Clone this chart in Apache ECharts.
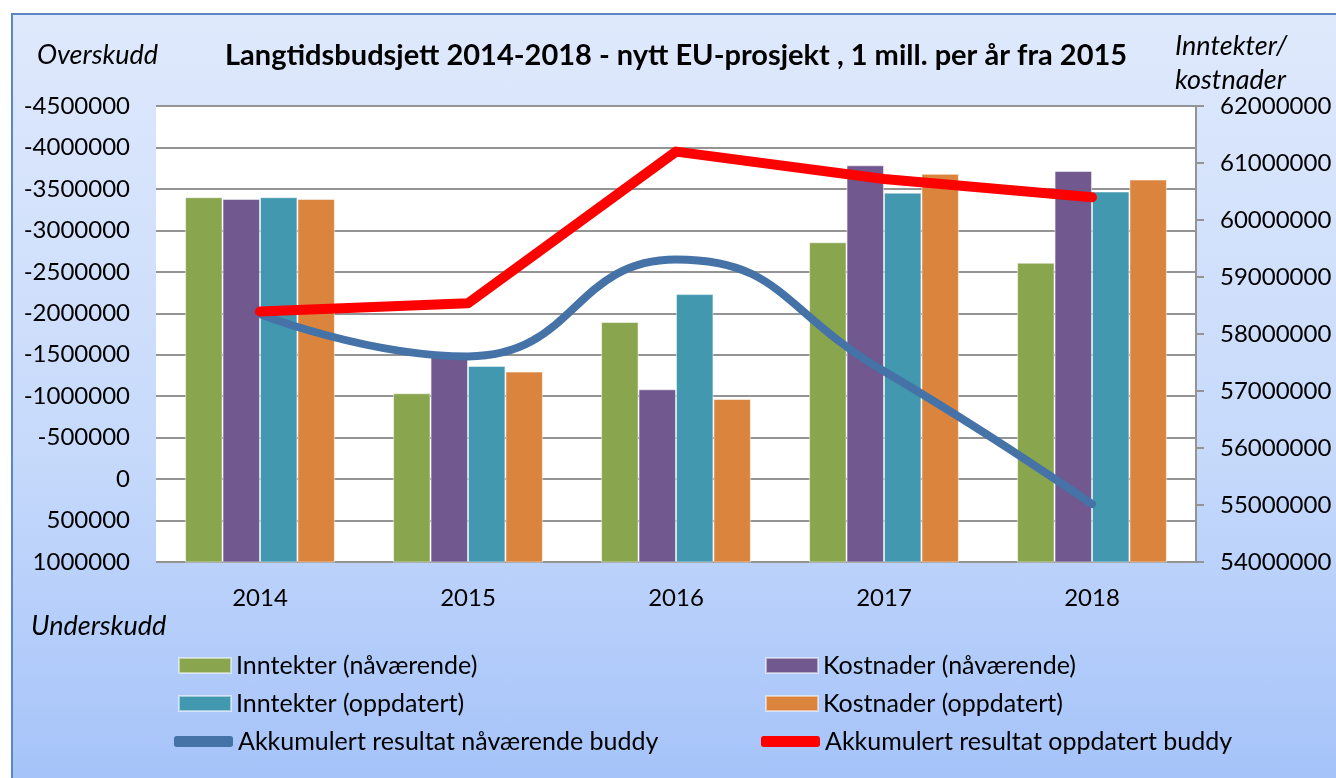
<!DOCTYPE html>
<html>
<head>
    <meta http-equiv="content-type" content="text/html; charset=utf-8">
    <script src="https://cdn.jsdelivr.net/npm/echarts@6/dist/echarts.min.js"></script>
    <style>
        html, body { margin: 0; padding: 0; background: #fff; overflow: hidden; }
        #frame {
            position: absolute; left: 11px; top: 13px; width: 1340px; height: 780px;
            border: 2px solid #5b87c5;
            background: linear-gradient(to bottom, #dfe9fc 0%, #c7dafb 55%, #a4c2f9 100%);
        }
        #main { position: absolute; left: 0; top: 0; width: 1336px; height: 778px; }
    </style>
</head>
<body>
<div id="frame"></div>
<div id="main"></div>
<script>
    // data
    var years = ['2014', '2015', '2016', '2017', '2018'];
    var inntekterNa = [60400000, 56960000, 58210000, 59610000, 59250000];
    var kostnaderNa = [60370000, 57600000, 57030000, 60960000, 60860000];
    var inntekterOpp = [60400000, 57440000, 58700000, 60480000, 60500000];
    var kostnaderOpp = [60370000, 57340000, 56860000, 60810000, 60710000];
    var resultatNa = [-1990000, -1480000, -2650000, -1300000, 300000];
    var resultatOpp = [-2020000, -2120000, -3950000, -3620000, -3400000];

    var font = 'Lato';
    var plain = function (v) { return String(v); };

    function legendRow(name, left, top, line) {
        return {
            data: [name],
            left: left,
            top: top,
            padding: 0,
            icon: line ? 'roundRect' : 'rect',
            itemWidth: line ? 59 : 52,
            itemHeight: line ? 11 : 15,
            textStyle: {fontFamily: font, fontSize: 25, color: '#000'}
        };
    }

    var chart = echarts.init(document.getElementById('main'));
    var option = {
        backgroundColor: 'transparent',
        title: {
            text: 'Langtidsbudsjett 2014-2018 - nytt EU-prosjekt , 1 mill. per år fra 2015',
            left: 220,
            top: 36,
            textStyle: {fontFamily: font, fontSize: 29, fontWeight: 'bold', color: '#000'}
        },
        graphic: [
            {type: 'text', left: 37, top: 42, style: {text: 'Overskudd', font: 'italic 27px Lato', fill: '#000'}},
            {type: 'text', left: 1175, top: 33, style: {text: 'Inntekter/', font: 'italic 27px Lato', fill: '#000'}},
            {type: 'text', left: 1175, top: 67, style: {text: 'kostnader', font: 'italic 27px Lato', fill: '#000'}},
            {type: 'text', left: 31, top: 613, style: {text: 'Underskudd', font: 'italic 27px Lato', fill: '#000'}}
        ],
        legend: [
            legendRow('Inntekter (nåværende)', 178, 653, false),
            legendRow('Kostnader (nåværende)', 765, 653, false),
            legendRow('Inntekter (oppdatert)', 178, 691, false),
            legendRow('Kostnader (oppdatert)', 765, 691, false),
            legendRow('Akkumulert resultat nåværende buddy', 174, 729, true),
            legendRow('Akkumulert resultat oppdatert buddy', 761, 729, true)
        ],
        grid: {
            left: 156, right: 140, top: 106, bottom: 216,
            show: true, backgroundColor: '#fff', borderWidth: 0
        },
        xAxis: {
            type: 'category',
            data: years,
            axisLine: {show: false},
            axisTick: {show: false},
            axisLabel: {fontFamily: font, fontSize: 24, color: '#000', margin: 24}
        },
        yAxis: [
            {
                type: 'value',
                inverse: true,
                min: -4500000,
                max: 1000000,
                interval: 500000,
                axisLine: {show: false},
                axisTick: {show: false},
                axisLabel: {fontFamily: font, fontSize: 24, color: '#000', margin: 26, formatter: plain},
                splitLine: {lineStyle: {color: '#949494', width: 2}}
            },
            {
                type: 'value',
                position: 'right',
                min: 54000000,
                max: 62000000,
                interval: 1000000,
                axisLine: {show: true, lineStyle: {color: '#949494', width: 2}},
                axisTick: {show: true, length: 8, lineStyle: {color: '#949494', width: 2}},
                axisLabel: {fontFamily: font, fontSize: 24, color: '#000', margin: 24, formatter: plain},
                splitLine: {show: false}
            }
        ],
        series: [
            {
                name: 'Inntekter (nåværende)', type: 'bar', yAxisIndex: 1, data: inntekterNa,
                barGap: '0%', barCategoryGap: '28%',
                itemStyle: {color: '#89A54E', borderColor: 'rgba(255,255,255,0.5)', borderWidth: 1}
            },
            {
                name: 'Kostnader (nåværende)', type: 'bar', yAxisIndex: 1, data: kostnaderNa,
                itemStyle: {color: '#71588F', borderColor: 'rgba(255,255,255,0.5)', borderWidth: 1}
            },
            {
                name: 'Inntekter (oppdatert)', type: 'bar', yAxisIndex: 1, data: inntekterOpp,
                itemStyle: {color: '#4198AF', borderColor: 'rgba(255,255,255,0.5)', borderWidth: 1}
            },
            {
                name: 'Kostnader (oppdatert)', type: 'bar', yAxisIndex: 1, data: kostnaderOpp,
                itemStyle: {color: '#DB843D', borderColor: 'rgba(255,255,255,0.5)', borderWidth: 1}
            },
            {
                name: 'Akkumulert resultat nåværende buddy', type: 'line', yAxisIndex: 0, data: resultatNa,
                smooth: true, showSymbol: false, symbol: 'none', color: '#4572A7',
                itemStyle: {color: '#4572A7'},
                lineStyle: {color: '#4572A7', width: 8, cap: 'round', join: 'round'}
            },
            {
                name: 'Akkumulert resultat oppdatert buddy', type: 'line', yAxisIndex: 0, data: resultatOpp,
                showSymbol: false, symbol: 'none', color: '#FF0000',
                itemStyle: {color: '#FF0000'},
                lineStyle: {color: '#FF0000', width: 10, cap: 'round', join: 'round'}
            }
        ]
    };
    chart.setOption(option);
</script>
</body>
</html>
